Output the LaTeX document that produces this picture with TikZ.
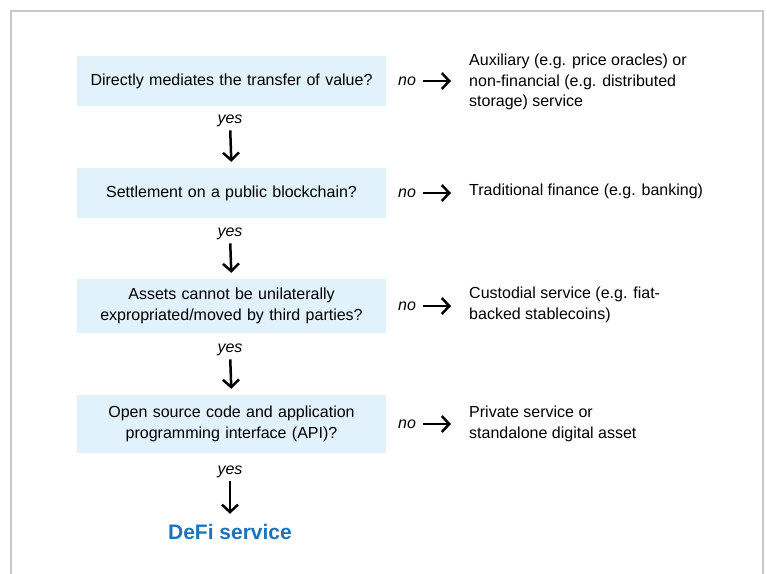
\documentclass[tikz,border=0pt]{standalone}
\usepackage{fontspec}
\setmainfont{Liberation Sans}
\usetikzlibrary{arrows.meta}
\definecolor{boxfill}{HTML}{E1F2FC}
\definecolor{defiblue}{HTML}{1B74BC}
\definecolor{framegray}{HTML}{C8C8C8}
\begin{document}
\begin{tikzpicture}[x=1pt,y=1pt,
  qbox/.style={fill=boxfill, align=center, inner sep=0pt, text width=309pt,
    font=\fontsize{16}{21.5}\selectfont},
  lbl/.style={font=\fontsize{16}{20}\selectfont\itshape, inner sep=0pt,
    text height=8.3pt, text depth=0pt},
  res/.style={font=\fontsize{16}{20.8}\selectfont, align=left, anchor=west, inner sep=0pt},
  arr/.style={-{Straight Barb[length=7.5pt,width=16pt]}, line width=2.5pt},
  downarr/.style={arr, shorten <=7pt, shorten >=6pt},
  rightarr/.style={arr, shorten <=7pt, shorten >=18pt}
]
\useasboundingbox (0,0) rectangle (767,-573);
\draw[framegray, line width=2pt] (11,-600) -- (11,-11) -- (763,-11) -- (763,-600);

% question boxes
\node[qbox, minimum height=50pt] (b1) at (231.5,-81) {Directly mediates the transfer of value?};
\node[qbox, minimum height=50pt] (b2) at (231.5,-193) {Settlement on a public blockchain?};
\node[qbox, minimum height=54pt] (b3) at (231.5,-306) {Assets cannot be unilaterally\\expropriated/moved by third parties?};
\node[qbox, minimum height=58pt] (b4) at (231.5,-424) {Open source code and application\\programming interface (API)?};

% yes labels
\node[lbl] (y1) at (230,-119) {yes};
\node[lbl] (y2) at (230,-232) {yes};
\node[lbl] (y3) at (230,-348) {yes};
\node[lbl] (y4) at (230,-470) {yes};

% final result
\node[font=\fontsize{21}{24}\selectfont\bfseries, text=defiblue, inner sep=0pt,
  text height=14pt, text depth=0pt] (defi) at (230,-532) {DeFi service};

% no labels
\node[lbl] (n1) at (407,-81) {no};
\node[lbl] (n2) at (407,-193) {no};
\node[lbl] (n3) at (407,-306) {no};
\node[lbl] (n4) at (407,-424) {no};

% outcomes
\node[res] (r1) at (469,-82) {Auxiliary (e.g. price oracles) or\\non-financial (e.g. distributed\\storage) service};
\node[res] (r2) at (469,-191) {Traditional finance (e.g. banking)};
\node[res] (r3) at (469,-305) {Custodial service (e.g. fiat-\\backed stablecoins)};
\node[res] (r4) at (469,-424) {Private service or\\standalone digital asset};

% connectors
\draw[downarr] (y1.south) -- (b2.north);
\draw[downarr] (y2.south) -- (b3.north);
\draw[downarr] (y3.south) -- (b4.north);
\draw[arr, shorten <=7pt, shorten >=11pt] (y4.south) -- (defi.north);

\draw[rightarr] (n1.east) -- (r1.west |- n1.east);
\draw[rightarr] (n2.east) -- (r2.west |- n2.east);
\draw[rightarr] (n3.east) -- (r3.west |- n3.east);
\draw[rightarr] (n4.east) -- (r4.west |- n4.east);
\end{tikzpicture}
\end{document}
